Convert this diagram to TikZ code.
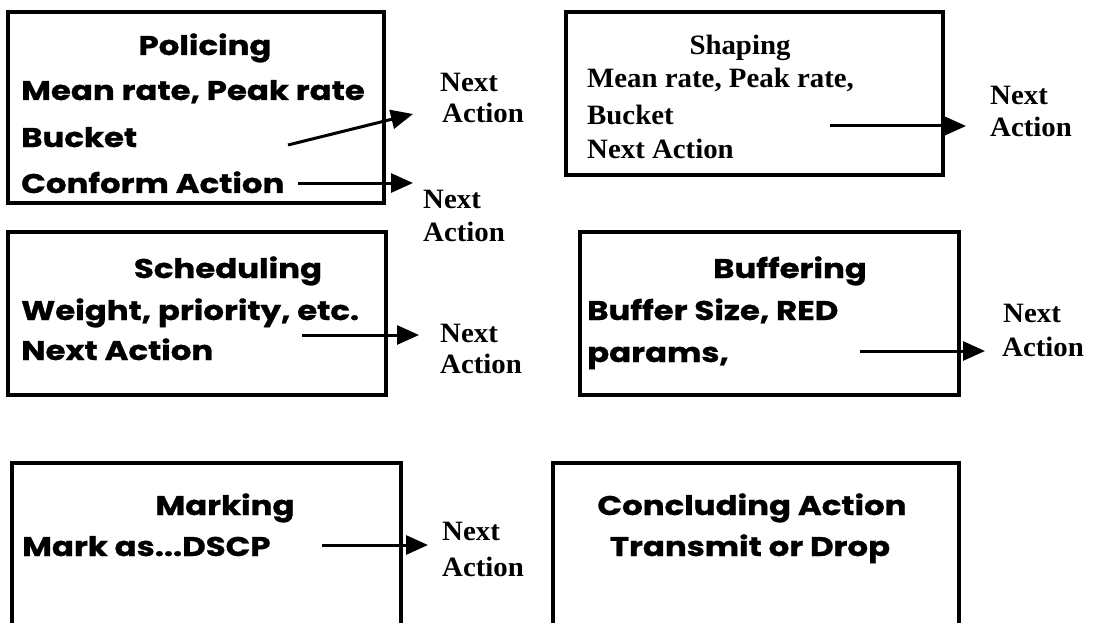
\documentclass[tikz,border=0pt]{standalone}
\usepackage{fontspec}
\setmainfont[FakeStretch=1.03]{Liberation Serif}
\newfontfamily\handfont[FakeStretch=1.2,FakeBold=1.0]{Poppins}
\usetikzlibrary{arrows.meta}
\begin{document}
\begin{tikzpicture}[x=1pt,y=-1pt,
  box/.style={draw,line width=3.2pt},
  hand/.style={font=\handfont\bfseries\fontsize{27}{30}\selectfont,anchor=base west,inner sep=0pt},
  title/.style={hand,anchor=base},
  serif/.style={font=\bfseries\fontsize{28}{33}\selectfont,anchor=base west,inner sep=0pt},
  flow/.style={line width=3pt,-{Triangle[length=22pt,width=19pt]}}]
\useasboundingbox (0,0) rectangle (1095,623);
\clip (0,0) rectangle (1095,623);

% ---- Policing ----
\draw[box] (8,12) rectangle (384,203);
\node[title] (pol) at (205,55) {Policing};
\node[hand] (pol1) at (21,100) {Mean rate, Peak rate};
\node[hand] (pol2) at (21,147) {Bucket};
\node[hand] (pol3) at (21,193) {Conform Action};
\node[serif] (pna1) at (440,92) {Next};
\node[serif] (pna1b) at (442,123) {Action};
\node[serif] (pna2) at (423,208) {Next};
\node[serif] (pna2b) at (423,241) {Action};
\coordinate (pt1) at (288,145);
\coordinate (ph1) at (413,114);
\coordinate (pt2) at (298,183);
\coordinate (ph2) at (413,183);
\draw[flow] (pt1) -- (ph1);
\draw[flow] (pt2) -- (ph2);

% ---- Shaping ----
\draw[box] (566,12) rectangle (943,175);
\node[serif,anchor=base] (sha) at (740,55) {Shaping};
\node[serif] (sha1) at (587,88) {Mean rate, Peak rate,};
\node[serif] (sha2) at (587,125) {Bucket};
\node[serif] (sha3) at (587,158) {Next Action};
\node[serif] (sna) at (990,105) {Next};
\node[serif] (snab) at (990,137) {Action};
\coordinate (st) at (830,126);
\coordinate (sh) at (966,126);
\draw[flow] (st) -- (sh);

% ---- Scheduling ----
\draw[box] (8,232) rectangle (386,395);
\node[title] (sch) at (228,278) {Scheduling};
\node[hand] (sch1) at (21,320) {Weight, priority, etc.};
\node[hand] (sch2) at (21,360) {Next Action};
\node[serif] (scna) at (440,342) {Next};
\node[serif] (scnab) at (440,373) {Action};
\coordinate (sct) at (302,335);
\coordinate (sch) at (419,335);
\draw[flow] (sct) -- (sch);

% ---- Buffering ----
\draw[box] (580,232) rectangle (959,395);
\node[title] (buf) at (790,278) {Buffering};
\node[hand] (buf1) at (587,320) {Buffer Size, RED};
\node[hand] (buf2) at (587,362) {params,};
\node[serif] (bna) at (1003,322) {Next};
\node[serif] (bnab) at (1002,356) {Action};
\coordinate (bt) at (860,351);
\coordinate (bh) at (985,351);
\draw[flow] (bt) -- (bh);

% ---- Marking ----
\draw[box] (12,640) -- (12,463) -- (401,463) -- (401,640);
\node[title] (mar) at (225,515) {Marking};
\node[hand] (mar1) at (22,556) {Mark as...DSCP};
\node[serif] (mna) at (442,540) {Next};
\node[serif] (mnab) at (442,576) {Action};
\coordinate (mt) at (322,545);
\coordinate (mh) at (428,545);
\draw[flow] (mt) -- (mh);

% ---- Concluding Action ----
\draw[box] (553,640) -- (553,463) -- (959,463) -- (959,640);
\node[title] (con) at (752,515) {Concluding Action};
\node[title] (con1) at (750,556) {Transmit or Drop};
\end{tikzpicture}
\end{document}
